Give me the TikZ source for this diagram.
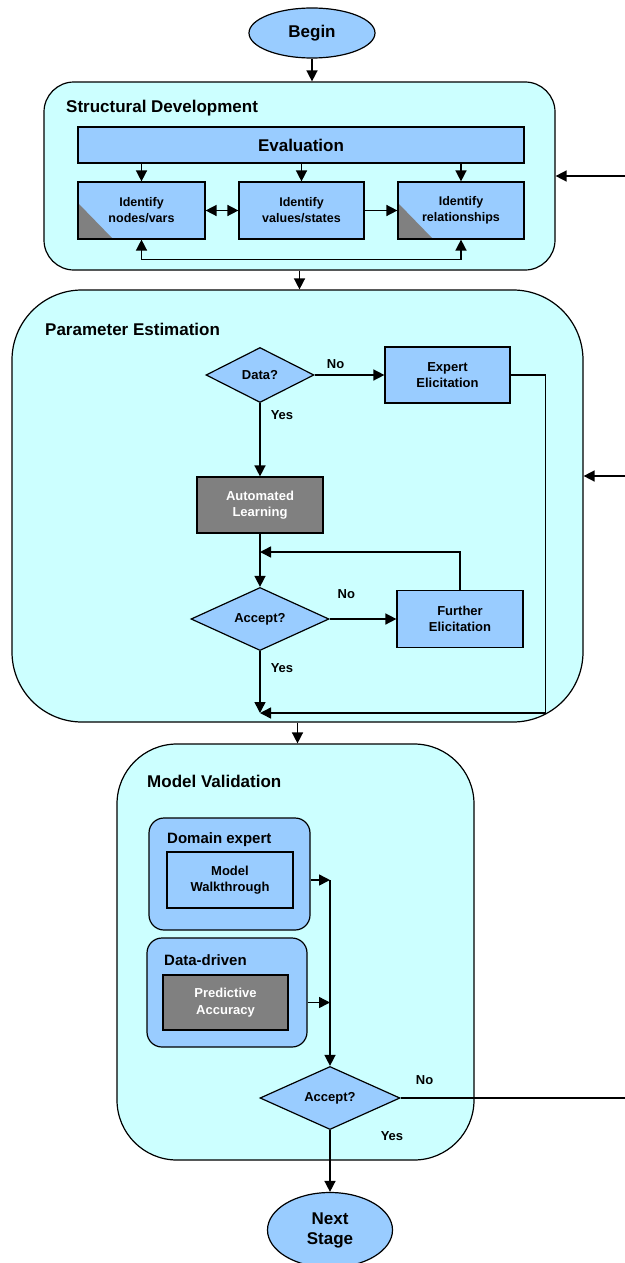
\documentclass[tikz,border=0pt]{standalone}
\usepackage{fontspec}
\setmainfont{Liberation Sans}
\usepackage{tikz}
\usetikzlibrary{arrows.meta}
\usetikzlibrary{positioning, shapes.geometric, calc}

\definecolor{stagebg}{HTML}{CCFFFF}
\definecolor{taskbg}{HTML}{99CCFF}
\definecolor{autobg}{HTML}{808080}

\tikzset{
  stagebox/.style={draw, fill=stagebg, line width=1.2pt, inner sep=0pt},
  groupbox/.style={draw, fill=taskbg, line width=1.2pt, inner sep=0pt, rounded corners=15pt},
  taskbox/.style={draw, fill=taskbg, line width=1.2pt, inner sep=0pt, align=center,
    minimum width=126pt, minimum height=56pt, font=\fontsize{13}{16.5}\selectfont\bfseries},
  autobox/.style={taskbox, fill=autobg, text=white},
  idbox/.style={taskbox, font=\fontsize{12.5}{16}\selectfont\bfseries},
  cornermark/.style={path picture={
    \fill[autobg] (path picture bounding box.south west) -- ++(0pt,36pt) -- ++(35pt,-36pt) -- cycle;}},
  decision/.style={diamond, draw, fill=taskbg, line width=1.2pt, inner sep=0pt,
    font=\fontsize{13}{16}\selectfont\bfseries},
  terminal/.style={ellipse, draw, fill=taskbg, line width=1.2pt, inner sep=0pt, align=center,
    font=\fontsize{17}{20}\selectfont\bfseries},
  heading/.style={anchor=west, inner sep=0pt, font=\fontsize{17}{20}\selectfont\bfseries},
  subheading/.style={anchor=west, inner sep=0pt, font=\fontsize{15}{18}\selectfont\bfseries},
  lbl/.style={inner sep=0pt, font=\fontsize{13}{16}\selectfont\bfseries},
  line/.style={line width=1.5pt},
  flow/.style={line, -{Triangle[length=11pt,width=11pt]}},
  flowboth/.style={line, {Triangle[length=11pt,width=11pt]}-{Triangle[length=11pt,width=11pt]}}
}

\begin{document}
\begin{tikzpicture}[x=1pt,y=-1pt]
  \useasboundingbox (0,0) rectangle (624,1263);

  % Stages
  \node[stagebox,rounded corners=30pt,minimum width=511pt,minimum height=188pt] (sd) at (299.5,176) {};
  \node[stagebox,rounded corners=70pt,minimum width=571pt,minimum height=432pt] (pe) at (297.5,506) {};
  \node[stagebox,rounded corners=60pt,minimum width=357pt,minimum height=416pt] (mv) at (295.5,952) {};
  \node[heading] (sdtitle) at (66,108) {Structural Development};
  \node[heading] (petitle) at (45,329) {Parameter Estimation};
  \node[heading] (mvtitle) at (147,781) {Model Validation};

  % Begin / end
  \node[terminal,minimum width=126pt,minimum height=50pt] (begin) at (312,33) {Begin};
  \node[terminal,minimum width=125pt,minimum height=75pt] (next) at (330,1230) {Next\\Stage};

  % Structural development
  \node[taskbox,minimum width=446pt,minimum height=36pt,font=\fontsize{17}{20}\selectfont\bfseries] (eval) at (301,145) {Evaluation};
  \node[idbox,cornermark,minimum width=127pt,minimum height=57pt] (nv) at (141.5,210.5) {Identify\\nodes/vars};
  \node[idbox,minimum width=125pt,minimum height=57pt] (vs) at (301.5,210.5) {Identify\\values/states};
  \node[idbox,cornermark,minimum width=126pt,minimum height=57pt] (rel) at (461,210.5) {Identify\\relationships};

  % Parameter estimation
  \node[decision,minimum width=108pt,minimum height=55pt] (data) at (260,375) {Data?};
  \node[taskbox,minimum width=125pt] (expert) at (447.5,375) {Expert\\Elicitation};
  \node[autobox] (auto) at (260,505) {Automated\\Learning};
  \node[decision,minimum width=138pt,minimum height=56pt] (accept1) at (260,619) {Accept?};
  \node[taskbox,minimum height=57pt] (further) at (460,619) {Further\\Elicitation};
  \coordinate (fbjoin) at (260,552);
  \coordinate (pemerge) at (260,713);

  % Model validation
  \node[groupbox,minimum width=161pt,minimum height=112pt] (dom) at (229.5,874) {};
  \node[subheading] (domtitle) at (167,840) {Domain expert};
  \node[taskbox] (walk) at (230,880) {Model\\Walkthrough};
  \node[groupbox,minimum width=160pt,minimum height=109pt] (ddr) at (227,992.5) {};
  \node[subheading] (ddrtitle) at (164,960) {Data-driven};
  \node[autobox,minimum width=125pt,minimum height=55pt] (pred) at (225.5,1002.5) {Predictive\\Accuracy};
  \node[decision,minimum width=140pt,minimum height=55pt] (accept2) at (330,1098) {Accept?};
  \coordinate (back) at (640,1098);
  \coordinate (peback) at (640,476);

  % Connectors
  \draw[flow] (begin.south) -- (begin.south |- sd.north);
  \foreach \t in {nv,vs,rel}
    \draw[flow] (eval.south -| \t.north) -- (\t.north);
  \draw[flowboth] (nv) -- (vs);
  \draw[flow] (vs) -- (rel);
  \draw[flowboth] (nv.south) -- ++(0,20) -| (rel.south);
  \draw[flow] (sd.south) -- (sd.south |- pe.north);

  \draw[flow] (data) -- node[lbl,above=6pt,pos=0.3] {No} (expert);
  \draw[flow] (data) -- node[lbl,right=10pt,pos=0.17] {Yes} (auto);
  \draw[flow] (auto) -- (accept1);
  \draw[flow] (further.north) |- (fbjoin);
  \draw[flow] (accept1) -- node[lbl,above=20pt,pos=0.25] {No} (further);
  \draw[flow] (accept1) -- node[lbl,right=10pt,pos=0.27] {Yes} (pemerge);
  \draw[flow] (expert.east) -- ++(35,0) |- (pemerge);
  \draw[flow] (pe.south) -- (pe.south |- mv.north);

  \draw[flow] (dom.east |- walk.east) -- (walk.east -| accept2.north);
  \draw[flow] (ddr.east |- pred.east) -- (pred.east -| accept2.north);
  \draw[flow] (walk.east -| accept2.north) -- (accept2.north);
  \draw[flow] (accept2) -- node[lbl,right=50pt,pos=0.1] {Yes} (next);

  % Rejection loop back to the earlier stages
  \draw[flow] (accept2.east) -- node[lbl,above=13pt,pos=0.1] {No} (back) |- (sd.east);
  \draw[flow] (peback) -- (peback -| pe.east);
\end{tikzpicture}
\end{document}
